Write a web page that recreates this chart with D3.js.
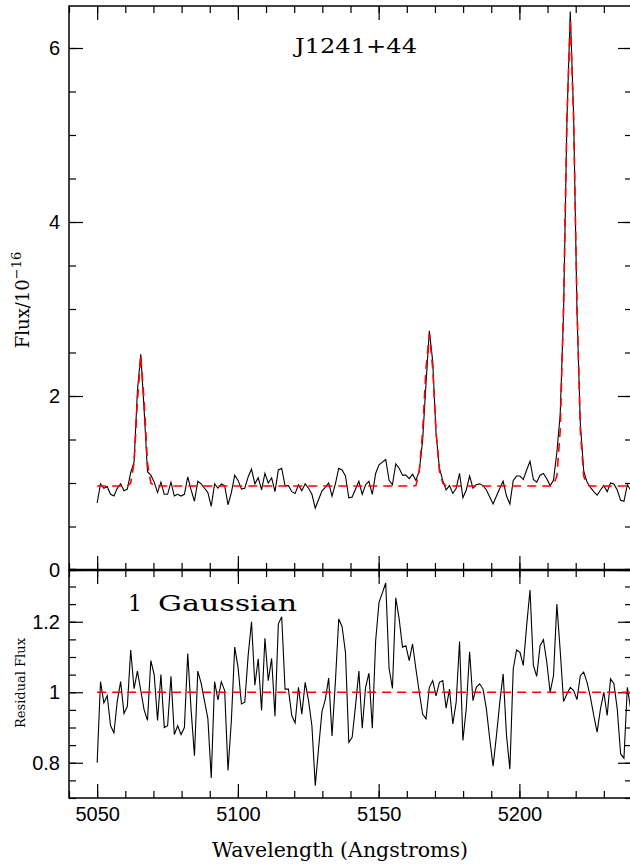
<!DOCTYPE html>
<html>
<head>
<meta charset="utf-8">
<script src="https://cdn.jsdelivr.net/npm/d3@7"></script>
<style>
  body { margin: 0; background: #fff; }
  svg { display: block; }
  .lab { font-family: "DejaVu Serif", serif; fill: #000; }
  .tick text { font-family: "Liberation Sans", sans-serif; font-size: 20px; fill: #000; }
</style>
</head>
<body>
<script>
// pixel grid of the spectrum: start wavelength and step (Angstrom)
var lamStart = 5050, lamStep = 1.192;

var flux = [
  0.77,0.99,0.94,0.96,0.87,0.85,0.94,0.99,0.91,0.93,
  1.12,1.24,2.06,2.48,1.84,1.13,1.09,1.01,0.89,1.01,
  0.87,0.87,1.01,0.85,0.87,0.85,0.87,1.07,0.92,0.79,
  1.02,0.99,0.94,0.89,0.73,0.99,0.94,0.99,0.97,0.75,
  0.89,1.09,1.03,0.93,0.94,1.07,1.16,0.99,1.06,0.92,
  1.11,1.00,1.06,0.90,1.15,1.17,0.97,0.97,0.90,0.88,
  0.98,0.91,0.99,0.94,0.87,0.71,0.81,0.91,0.95,1.00,
  0.85,0.99,1.17,1.15,1.08,0.83,0.84,0.93,1.02,0.87,
  0.98,1.02,0.87,1.11,1.21,1.24,1.27,1.03,0.98,1.22,
  1.17,1.09,1.09,1.05,1.10,1.03,1.14,1.49,2.14,2.75,
  2.40,1.57,1.17,1.03,0.92,0.97,0.88,0.94,1.11,0.83,
  0.92,1.08,0.94,0.98,0.99,0.97,0.92,0.84,0.76,0.85,
  0.94,1.02,0.85,0.76,1.03,1.08,1.08,1.04,1.15,1.25,
  1.04,1.01,1.09,1.11,1.05,0.97,1.03,1.35,1.79,2.96,
  5.16,6.42,5.22,2.98,1.68,1.14,1.01,0.95,0.90,0.86,
  0.92,0.97,0.90,1.00,0.99,0.92,0.80,0.79,0.98,0.92
];

// single-gaussian fit (red dashed)
var model = [
  0.966,0.966,0.966,0.966,0.966,0.966,0.966,0.966,0.966,0.966,
  1.00,1.23,1.94,2.47,1.94,1.23,1.00,0.966,0.966,0.966,
  0.966,0.966,0.966,0.966,0.966,0.966,0.966,0.966,0.966,0.966,
  0.966,0.966,0.966,0.966,0.966,0.966,0.966,0.966,0.966,0.966,
  0.966,0.966,0.966,0.966,0.966,0.966,0.966,0.966,0.966,0.966,
  0.966,0.966,0.966,0.966,0.966,0.966,0.966,0.966,0.966,0.966,
  0.966,0.966,0.966,0.966,0.966,0.966,0.966,0.966,0.966,0.966,
  0.966,0.966,0.966,0.966,0.966,0.966,0.966,0.966,0.966,0.966,
  0.966,0.966,0.966,0.966,0.966,0.966,0.966,0.966,0.966,0.966,
  0.966,0.966,0.966,0.966,0.966,0.97,1.14,1.59,2.32,2.71,
  2.32,1.59,1.14,1.00,0.966,0.966,0.966,0.966,0.966,0.966,
  0.966,0.966,0.966,0.966,0.966,0.966,0.966,0.966,0.966,0.966,
  0.966,0.966,0.966,0.966,0.966,0.966,0.966,0.966,0.966,0.966,
  0.966,0.966,0.966,0.966,0.966,0.966,0.98,1.08,1.60,3.04,
  5.19,6.33,5.19,3.04,1.60,1.08,0.98,0.966,0.966,0.966,
  0.966,0.966,0.966,0.966,0.966,0.966,0.966,0.966,0.966,0.966
];

// residual flux (data / fit)
var resid = [
  0.80,1.03,0.97,0.99,0.905,0.885,0.975,1.03,0.94,0.96,
  1.12,1.01,1.06,1.005,0.95,0.92,1.09,1.05,0.92,1.05,
  0.90,0.905,1.045,0.88,0.905,0.88,0.90,1.11,0.95,0.82,
  1.06,1.025,0.975,0.925,0.757,1.03,0.978,1.03,1.005,0.778,
  0.92,1.128,1.07,0.967,0.972,1.104,1.20,1.02,1.095,0.948,
  1.153,1.033,1.096,0.932,1.194,1.214,1.009,1.009,0.934,0.913,
  1.014,0.938,1.028,0.976,0.905,0.735,0.842,0.945,0.98,1.04,
  0.876,1.03,1.208,1.186,1.113,0.858,0.872,0.962,1.06,0.898,
  1.014,1.054,0.898,1.146,1.255,1.282,1.31,1.068,1.011,1.268,
  1.208,1.128,1.132,1.09,1.137,1.066,1.00,0.938,0.924,1.014,
  1.033,0.99,1.028,1.033,0.955,1.009,0.91,0.972,1.144,0.863,
  0.953,1.115,0.976,1.014,1.024,1.009,0.953,0.868,0.79,0.877,
  0.972,1.052,0.877,0.782,1.066,1.12,1.113,1.076,1.189,1.29,
  1.076,1.045,1.132,1.149,1.085,1.00,1.047,1.25,1.118,0.974,
  0.995,1.014,1.005,0.979,1.047,1.057,1.028,0.986,0.934,0.887,
  0.953,1.00,0.934,1.038,1.024,0.953,0.825,0.813,1.014,0.953
];

var residLevel = 1;

var xTicks = [5050, 5100, 5150, 5200];
var fluxTicks = [0, 2, 4, 6];
var residTicks = [0.8, 1, 1.2];
var residTickLabels = ["0.8", "1", "1.2"];

var W = 630, H = 864;
var left = 69, right = 632;
var top1 = 6, bot1 = 570, top2 = 570, bot2 = 798;

var svg = d3.select("body").append("svg").attr("width", W).attr("height", H);

var x = d3.scaleLinear().domain([5040, 5240]).range([left, right]);
var y1 = d3.scaleLinear().domain([0, 564 / 87]).range([bot1, top1]);
var y2 = d3.scaleLinear().domain([0.7, 0.7 + 228 / 352.5]).range([bot2, top2]);

var lam = flux.map(function(d, i) { return lamStart + i * lamStep; });

var xMinor = d3.range(5040, 5241, 10);
var y1Minor = d3.range(0, 6.5, 0.5);
var y2Minor = d3.range(0.7, 1.35, 0.05);

function tickAxis(gen, sel, len, vals, labels) {
  var a = gen.tickValues(vals).tickSizeInner(len).tickSizeOuter(0);
  if (labels) a.tickFormat(function(d, i) { return labels[i]; }).tickPadding(9);
  else a.tickFormat("");
  sel.call(a);
  sel.select(".domain").remove();
  sel.selectAll(".tick line").attr("stroke", "#000").attr("stroke-width", 1.2);
  return sel;
}

function frameAxes(yScale, yTop, yMajor, yMinorVals, yLabels) {
  // left
  tickAxis(d3.axisLeft(yScale), svg.append("g").attr("transform", "translate(" + left + ",0)"), -14, yMajor, yLabels);
  tickAxis(d3.axisLeft(yScale), svg.append("g").attr("transform", "translate(" + left + ",0)"), -7, yMinorVals, null);
  // right
  tickAxis(d3.axisRight(yScale), svg.append("g").attr("transform", "translate(" + right + ",0)"), -14, yMajor, null);
  tickAxis(d3.axisRight(yScale), svg.append("g").attr("transform", "translate(" + right + ",0)"), -7, yMinorVals, null);
  // top
  tickAxis(d3.axisTop(x), svg.append("g").attr("transform", "translate(0," + yTop + ")"), -14, xTicks, null);
  tickAxis(d3.axisTop(x), svg.append("g").attr("transform", "translate(0," + yTop + ")"), -7, xMinor, null);
}

// upper panel
frameAxes(y1, top1, fluxTicks, y1Minor, fluxTicks.map(String));
tickAxis(d3.axisBottom(x), svg.append("g").attr("transform", "translate(0," + bot1 + ")"), -14, xTicks, null);
tickAxis(d3.axisBottom(x), svg.append("g").attr("transform", "translate(0," + bot1 + ")"), -7, xMinor, null);

// lower panel
frameAxes(y2, top2, residTicks, y2Minor, residTickLabels);
tickAxis(d3.axisBottom(x), svg.append("g").attr("transform", "translate(0," + bot2 + ")"), -14, xTicks, xTicks.map(String));
tickAxis(d3.axisBottom(x), svg.append("g").attr("transform", "translate(0," + bot2 + ")"), -7, xMinor, null);

// clips
var defs = svg.append("defs");
defs.append("clipPath").attr("id", "c1").append("rect")
  .attr("x", left).attr("y", top1).attr("width", right - left).attr("height", bot1 - top1);
defs.append("clipPath").attr("id", "c2").append("rect")
  .attr("x", left).attr("y", top2).attr("width", right - left).attr("height", bot2 - top2);

var line1 = d3.line().x(function(d, i) { return x(lam[i]); }).y(function(d) { return y1(d); });
var line2 = d3.line().x(function(d, i) { return x(lam[i]); }).y(function(d) { return y2(d); });

var g1 = svg.append("g").attr("clip-path", "url(#c1)");
g1.append("path").datum(flux).attr("d", line1)
  .attr("fill", "none").attr("stroke", "#000").attr("stroke-width", 1.1);
g1.append("path").datum(model).attr("d", line1)
  .attr("fill", "none").attr("stroke", "#ff0000").attr("stroke-width", 1.6)
  .attr("stroke-dasharray", "9,6");

var g2 = svg.append("g").attr("clip-path", "url(#c2)");
g2.append("path").datum(resid).attr("d", line2)
  .attr("fill", "none").attr("stroke", "#000").attr("stroke-width", 1.1);
g2.append("path").datum(resid.map(function() { return residLevel; })).attr("d", line2)
  .attr("fill", "none").attr("stroke", "#ff0000").attr("stroke-width", 1.6)
  .attr("stroke-dasharray", "9,6");

// frames
svg.append("rect").attr("x", left).attr("y", top1).attr("width", right - left).attr("height", bot1 - top1)
  .attr("fill", "none").attr("stroke", "#000").attr("stroke-width", 1.5);
svg.append("rect").attr("x", left).attr("y", top2).attr("width", right - left).attr("height", bot2 - top2)
  .attr("fill", "none").attr("stroke", "#000").attr("stroke-width", 1.5);
svg.append("line").attr("x1", left).attr("x2", right).attr("y1", y1(0)).attr("y2", y1(0))
  .attr("stroke", "#000").attr("stroke-width", 2.5);

// labels
svg.append("text").attr("class", "lab").attr("x", 295).attr("y", 53)
  .style("font-size", "21px").attr("textLength", 122).attr("lengthAdjust", "spacingAndGlyphs")
  .text("J1241+44");
svg.append("text").attr("class", "lab").attr("x", 128).attr("y", 611)
  .style("font-size", "22px").text("1");
svg.append("text").attr("class", "lab").attr("x", 158).attr("y", 611)
  .style("font-size", "22px").attr("textLength", 139).attr("lengthAdjust", "spacingAndGlyphs")
  .text("Gaussian");
svg.append("text").attr("class", "lab").attr("x", 212).attr("y", 857)
  .style("font-size", "20px").attr("textLength", 256).attr("lengthAdjust", "spacingAndGlyphs")
  .text("Wavelength (Angstroms)");

var yl = svg.append("text").attr("class", "lab")
  .attr("transform", "translate(29,300) rotate(-90)")
  .attr("text-anchor", "middle").style("font-size", "18px");
yl.append("tspan").text("Flux/10");
yl.append("tspan").attr("dy", -8).style("font-size", "13px").text("\u221216");

svg.append("text").attr("class", "lab")
  .attr("transform", "translate(25,683) rotate(-90)")
  .attr("text-anchor", "middle").style("font-size", "13px").text("Residual Flux");
</script>
</body>
</html>
